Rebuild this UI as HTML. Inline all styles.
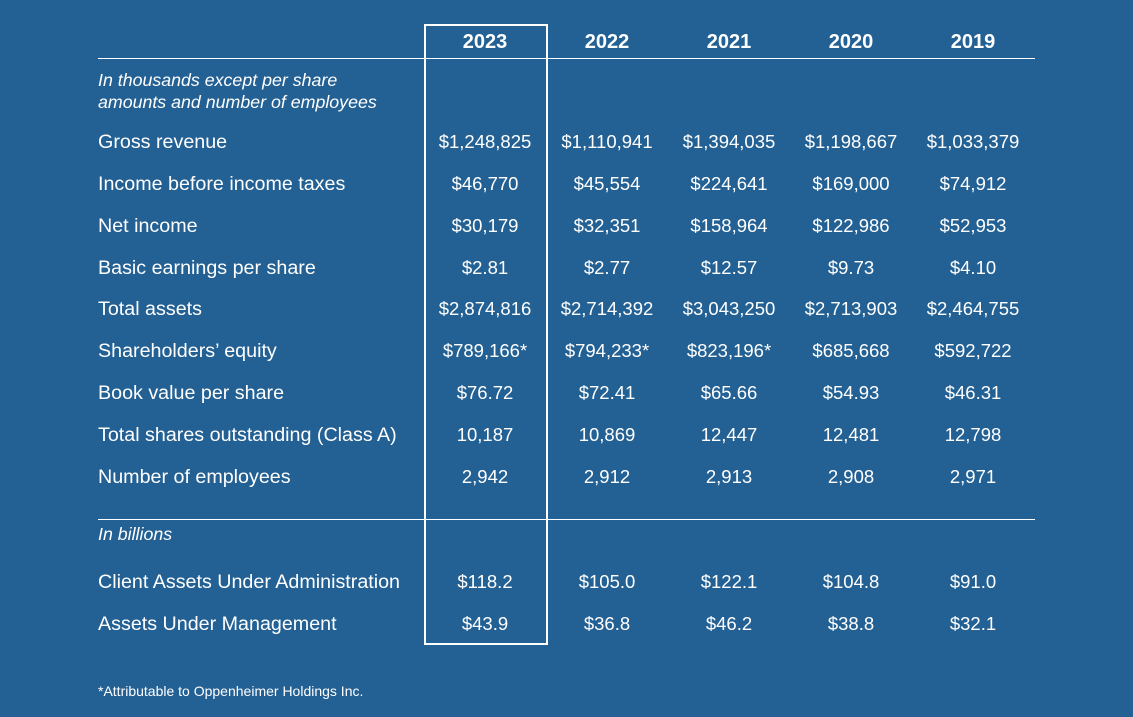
<!DOCTYPE html>
<html><head><style>
body{margin:0;width:1133px;height:717px;background:#236093;font-family:"Liberation Sans",sans-serif;color:#fff;position:relative;overflow:hidden}
.t{position:absolute;white-space:nowrap}
.h{font-weight:bold;font-size:20px;transform:translateX(-50%);top:31px}
.l{left:98px;font-size:19.7px}
.v{font-size:18.5px;transform:translateX(-50%)}
.i{font-style:italic;font-size:17.8px;left:98px}
.line{position:absolute;left:98px;width:937px;height:1px;background:#fff}
</style></head><body>
<div style="position:absolute;left:424px;top:24px;width:120px;height:617px;border:2px solid #fff"></div>
<div class="line" style="top:58px"></div>
<div class="line" style="top:519px"></div>
<div class="t h" style="left:485px">2023</div>
<div class="t h" style="left:607px">2022</div>
<div class="t h" style="left:729px">2021</div>
<div class="t h" style="left:851px">2020</div>
<div class="t h" style="left:973px">2019</div>
<div class="t i" style="top:69px;line-height:22px">In thousands except per share<br>amounts and number of employees</div>
<div class="t i" style="top:524px">In billions</div>
<div id="rows"></div>
<div class="t" style="left:98px;top:683px;font-size:14px">*Attributable to Oppenheimer Holdings Inc.</div>
<script>
var rows=[
[142,"Gross revenue",["$1,248,825","$1,110,941","$1,394,035","$1,198,667","$1,033,379"]],
[184,"Income before income taxes",["$46,770","$45,554","$224,641","$169,000","$74,912"]],
[226,"Net income",["$30,179","$32,351","$158,964","$122,986","$52,953"]],
[268,"Basic earnings per share",["$2.81","$2.77","$12.57","$9.73","$4.10"]],
[309,"Total assets",["$2,874,816","$2,714,392","$3,043,250","$2,713,903","$2,464,755"]],
[351,"Shareholders\u2019 equity",["$789,166*","$794,233*","$823,196*","$685,668","$592,722"]],
[393,"Book value per share",["$76.72","$72.41","$65.66","$54.93","$46.31"]],
[435,"Total shares outstanding (Class A)",["10,187","10,869","12,447","12,481","12,798"]],
[477,"Number of employees",["2,942","2,912","2,913","2,908","2,971"]],
[582,"Client Assets Under Administration",["$118.2","$105.0","$122.1","$104.8","$91.0"]],
[624,"Assets Under Management",["$43.9","$36.8","$46.2","$38.8","$32.1"]]];
var xs=[485,607,729,851,973],h="";
rows.forEach(function(r){
h+='<div class="t l" style="top:'+(r[0]-11)+'px">'+r[1]+'</div>';
r[2].forEach(function(v,i){h+='<div class="t v" style="left:'+xs[i]+'px;top:'+(r[0]-11)+'px">'+v+'</div>';});
});
document.getElementById('rows').innerHTML=h;
</script>
</body></html>
